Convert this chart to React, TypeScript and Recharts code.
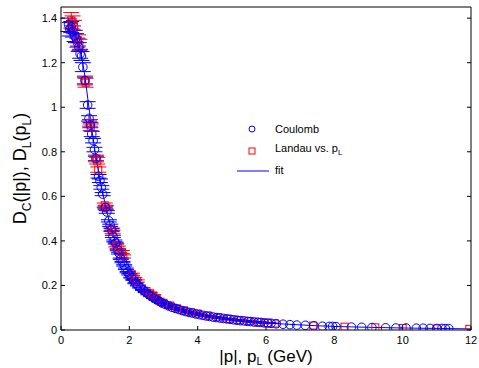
import { ComposedChart, Scatter, Line, XAxis, YAxis, ErrorBar } from 'recharts';

const FONT = '"Liberation Sans", Arial, Helvetica, sans-serif';
const BLUE = '#0000ff';
const RED = '#ff0000';

const xTicks = [0, 2, 4, 6, 8, 10, 12];
const yTicks = [0, 0.2, 0.4, 0.6, 0.8, 1, 1.2, 1.4];

// Coulomb gauge, D_C(|p|)
const coulombP = [
  0.22, 0.26, 0.3, 0.35, 0.4, 0.44, 0.48, 0.52, 0.56, 0.6, 0.64, 0.7, 0.78, 0.82, 0.86, 0.9, 0.94, 0.98,
  1.02, 1.1, 1.14, 1.18, 1.22, 1.3, 1.34, 1.4, 1.44, 1.48, 1.52, 1.56, 1.6, 1.66, 1.7, 1.75, 1.8, 1.85,
  1.9, 1.95, 2.0, 2.06, 2.12, 2.18, 2.25, 2.32, 2.4, 2.48, 2.56, 2.64, 2.72, 2.8, 2.88, 2.96, 3.05, 3.15,
  3.25, 3.35, 3.45, 3.55, 3.65, 3.75, 3.85, 3.95, 4.05, 4.15, 4.25, 4.35, 4.45, 4.55, 4.65, 4.75, 4.85,
  4.95, 5.05, 5.15, 5.25, 5.35, 5.45, 5.55, 5.65, 5.75, 5.85, 5.95, 6.05, 6.15, 6.3, 6.5, 6.7, 6.9, 7.15,
  7.4, 7.65, 7.85, 7.95, 8.05, 8.5, 8.8, 9.1, 9.5, 9.8, 10.1, 10.4, 10.6, 10.8, 11.0, 11.15, 11.25, 11.35,
];
const coulombD = [
  1.37, 1.35, 1.36, 1.34, 1.32, 1.31, 1.29, 1.27, 1.24, 1.23, 1.18, 1.12, 1.01, 0.95, 0.92, 0.88, 0.85, 0.81,
  0.77, 0.69, 0.67, 0.64, 0.61, 0.55, 0.53, 0.49, 0.47, 0.45, 0.42, 0.4, 0.39, 0.36, 0.345, 0.32, 0.305, 0.29,
  0.275, 0.26, 0.25, 0.235, 0.225, 0.21, 0.2, 0.19, 0.18, 0.17, 0.16, 0.152, 0.143, 0.135, 0.128, 0.121, 0.115, 0.108,
  0.102, 0.097, 0.092, 0.087, 0.083, 0.079, 0.076, 0.072, 0.069, 0.066, 0.063, 0.061, 0.058, 0.056, 0.054, 0.052, 0.05,
  0.048, 0.046, 0.044, 0.042, 0.041, 0.039, 0.038, 0.036, 0.035, 0.034, 0.032, 0.031, 0.03, 0.028, 0.026, 0.024, 0.022, 0.021,
  0.019, 0.017, 0.016, 0.016, 0.015, 0.013, 0.012, 0.011, 0.01, 0.009, 0.009, 0.008, 0.008, 0.007, 0.007, 0.007, 0.006, 0.006,
];
const coulombErr = [
  0.03, 0.03, 0.025, 0.025, 0.025, 0.02, 0.02, 0.02, 0.02, 0.02, 0.02, 0.015, 0.015, 0.012, 0.012, 0.012, 0.01, 0.01,
  0.01, 0.008, 0.008, 0.008, 0.007, 0.006, 0.006, 0.005, 0.005, 0.005, 0.005, 0.004, 0.004, 0.004, 0.004, 0.003, 0.003, 0.003,
  0.003, 0.003, 0.003, 0.002, 0.002, 0.002, 0.002, 0.002, 0.002, 0.002, 0.002, 0.002, 0.002, 0.002, 0.002, 0.002, 0.002, 0.002,
  0.001, 0.001, 0.001, 0.001, 0.001, 0.001, 0.001, 0.001, 0.001, 0.001, 0.001, 0.001, 0.001, 0.001, 0.001, 0.001, 0.001,
  0.001, 0.001, 0.001, 0.001, 0.001, 0.001, 0.001, 0.001, 0.001, 0.001, 0.001, 0.001, 0.001, 0, 0, 0, 0, 0,
  0, 0, 0, 0, 0, 0, 0, 0, 0, 0, 0, 0, 0, 0, 0, 0, 0, 0,
];

// Landau gauge vs. p_L, D_L(p_L)
const landauP = [
  0.3, 0.34, 0.38, 0.5, 0.54, 0.7, 0.72, 0.85, 0.87, 1.03, 1.06, 1.09, 1.28, 1.31, 1.48, 1.51, 1.62, 1.66,
  1.78, 1.82, 2.08, 2.15, 2.22, 2.5, 2.6, 2.7, 2.8, 3.0, 3.2, 3.4, 3.6, 3.8, 4.0, 4.3, 4.6, 4.9, 5.2, 5.5,
  5.8, 6.05, 6.26, 7.38, 8.3, 9.2, 10.0, 11.0, 11.95,
];
const landauD = [
  1.39, 1.38, 1.36, 1.3, 1.28, 1.12, 1.11, 0.93, 0.91, 0.77, 0.76, 0.72, 0.56, 0.55, 0.45, 0.44, 0.38, 0.37,
  0.35, 0.33, 0.25, 0.23, 0.22, 0.175, 0.165, 0.155, 0.14, 0.122, 0.11, 0.097, 0.088, 0.08, 0.074, 0.065, 0.057, 0.05, 0.044, 0.04,
  0.035, 0.032, 0.029, 0.02, 0.015, 0.012, 0.009, 0.007, 0.005,
];
const landauErr = [
  0.035, 0.03, 0.03, 0.025, 0.025, 0.02, 0.02, 0.015, 0.015, 0.015, 0.015, 0.012, 0.01, 0.01, 0.008, 0.008, 0.007, 0.007,
  0.007, 0.007, 0.005, 0.005, 0.005, 0.004, 0.004, 0.004, 0.003, 0.003, 0.003, 0.002, 0.002, 0.002, 0.002, 0.001, 0.001, 0.001, 0.001, 0.001,
  0.001, 0.001, 0, 0, 0, 0, 0, 0, 0,
];

// fit curve
const fitP = [
  0.2, 0.3, 0.4, 0.5, 0.6, 0.7, 0.8, 0.9, 1.0, 1.1, 1.2, 1.3, 1.4, 1.5, 1.6, 1.7, 1.8, 1.9, 2.0, 2.2,
  2.4, 2.6, 2.8, 3.0, 3.25, 3.5, 3.75, 4.0, 4.5, 5.0, 5.5, 6.0, 6.5, 7.0, 7.5, 8.0, 9.0, 10.0, 11.0, 12.0,
];
const fitD = [
  1.375, 1.36, 1.33, 1.29, 1.23, 1.14, 1.02, 0.9, 0.8, 0.71, 0.63, 0.56, 0.495, 0.44, 0.39, 0.35, 0.315, 0.283, 0.255, 0.212,
  0.18, 0.155, 0.135, 0.119, 0.104, 0.091, 0.081, 0.072, 0.058, 0.047, 0.039, 0.032, 0.027, 0.023, 0.019, 0.016, 0.012, 0.009, 0.007, 0.005,
];

const coulombData = coulombP.map((x, i) => ({ x, y: coulombD[i], err: coulombErr[i] }));
const landauData = landauP.map((x, i) => ({ x, y: landauD[i], err: landauErr[i] }));
const fitData = fitP.map((x, i) => ({ x, y: fitD[i] }));

const Circle = (props: any) => (
  <circle cx={props.cx} cy={props.cy} r={4.3} fill="none" stroke={BLUE} strokeWidth={1} />
);
const Square = (props: any) => (
  <rect x={props.cx - 3.5} y={props.cy - 3.5} width={7} height={7} fill="none" stroke={RED} strokeWidth={1} />
);

const fmtY = (v: number) => (v === 0 ? '0' : v === 1 ? '1' : String(v));

const XTitle = (props: any) => {
  const { x, y, width } = props.viewBox;
  return (
    <text x={x + width / 2} y={y + 32} textAnchor="middle" fontSize={17} fontFamily={FONT} fill="#000">
      |p|, p<tspan dy={3} fontSize={11}>L</tspan>
      <tspan dy={-3}> (GeV)</tspan>
    </text>
  );
};

const YTitle = (props: any) => {
  const { x, y, height } = props.viewBox;
  const cx = x + 26;
  const cy = y + height / 2;
  return (
    <text
      x={cx}
      y={cy}
      transform={`rotate(-90, ${cx}, ${cy})`}
      textAnchor="middle"
      fontSize={18}
      fontFamily={FONT}
      fill="#000"
    >
      D<tspan dy={5} fontSize={12}>C</tspan>
      <tspan dy={-5}>(|p|), D</tspan>
      <tspan dy={5} fontSize={12}>L</tspan>
      <tspan dy={-5}>(p</tspan>
      <tspan dy={5} fontSize={12}>L</tspan>
      <tspan dy={-5}>)</tspan>
    </text>
  );
};

const tickStyle = { fontSize: 11, fontFamily: FONT, fill: '#000' };

export default function App() {
  return (
    <div style={{ position: 'absolute', left: 0, top: 0, width: 479, height: 368, background: '#fff' }}>
      <ComposedChart width={479} height={368} margin={{ top: 6, right: 7, bottom: 0, left: 0 }}>
        <XAxis
          xAxisId={0}
          dataKey="x"
          type="number"
          domain={[0, 12]}
          ticks={xTicks}
          allowDataOverflow
          height={38}
          tickSize={-4}
          tickMargin={10}
          tick={tickStyle}
          stroke="#000"
          label={<XTitle />}
        />
        <XAxis
          xAxisId="top"
          orientation="top"
          dataKey="x"
          type="number"
          domain={[0, 12]}
          ticks={xTicks}
          allowDataOverflow
          height={1}
          tickSize={-4}
          tick={false}
          tickLine={{ stroke: '#000' }}
          stroke="#000"
        />
        <YAxis
          yAxisId={0}
          type="number"
          domain={[0, 1.45]}
          ticks={yTicks}
          allowDataOverflow
          width={61}
          tickSize={-4}
          tickMargin={8}
          tick={tickStyle}
          tickFormatter={fmtY}
          stroke="#000"
          label={<YTitle />}
        />
        <YAxis
          yAxisId="right"
          orientation="right"
          type="number"
          domain={[0, 1.45]}
          ticks={yTicks}
          allowDataOverflow
          width={1}
          tickSize={-4}
          tickFormatter={() => ''}
          stroke="#000"
        />
        <Scatter data={landauData} dataKey="y" shape={<Square />} isAnimationActive={false}>
          <ErrorBar dataKey="err" direction="y" width={8} stroke={RED} strokeWidth={1} isAnimationActive={false} />
        </Scatter>
        <Scatter data={coulombData} dataKey="y" shape={<Circle />} isAnimationActive={false}>
          <ErrorBar dataKey="err" direction="y" width={8} stroke={BLUE} strokeWidth={1} isAnimationActive={false} />
        </Scatter>
        <Line
          data={fitData}
          dataKey="y"
          type="linear"
          stroke={BLUE}
          strokeWidth={1}
          dot={false}
          activeDot={false}
          isAnimationActive={false}
        />
        <Line
          data={fitData}
          dataKey="y"
          xAxisId="top"
          yAxisId="right"
          type="linear"
          stroke="none"
          dot={false}
          activeDot={false}
          isAnimationActive={false}
        />
      </ComposedChart>
      <svg
        width={479}
        height={368}
        style={{ position: 'absolute', left: 0, top: 0, pointerEvents: 'none' }}
      >
        <circle cx={252} cy={129} r={3} fill="none" stroke={BLUE} strokeWidth={1} />
        <text x={275} y={133} fontSize={11} fontFamily={FONT} fill="#000">Coulomb</text>
        <rect x={249} y={148} width={6} height={6} fill="none" stroke={RED} strokeWidth={1} />
        <text x={275} y={152} fontSize={11} fontFamily={FONT} fill="#000">
          Landau vs. p<tspan dy={3} fontSize={8}>L</tspan>
        </text>
        <line x1={237} y1={171} x2={269} y2={171} stroke={BLUE} strokeWidth={1} />
        <text x={275} y={174} fontSize={11} fontFamily={FONT} fill="#000">fit</text>
      </svg>
    </div>
  );
}
